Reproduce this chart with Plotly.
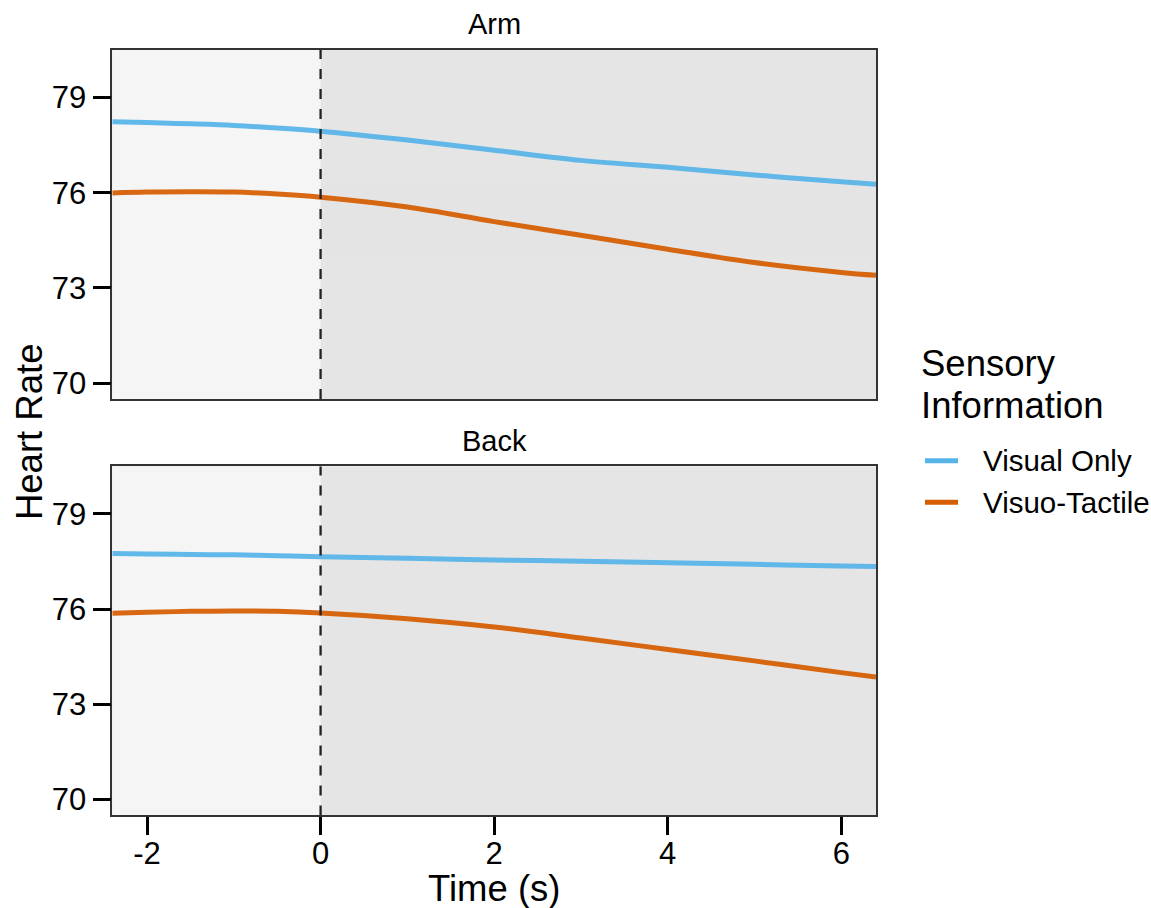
import plotly.graph_objects as go

# ---- data ----
time_s = [-2.4, -2, -1.5, -1, -0.5, 0, 1, 2, 3, 4, 5, 6, 6.4]

arm_visual = [78.24, 78.21, 78.17, 78.12, 78.04, 77.94, 77.66, 77.34, 77.02, 76.80, 76.56, 76.35, 76.27]
arm_tactile = [75.99, 76.02, 76.03, 76.02, 75.96, 75.86, 75.55, 75.09, 74.66, 74.22, 73.80, 73.49, 73.40]
back_visual = [77.75, 77.74, 77.72, 77.71, 77.68, 77.65, 77.60, 77.55, 77.51, 77.46, 77.41, 77.36, 77.34]
back_tactile = [75.87, 75.90, 75.93, 75.94, 75.93, 75.88, 75.70, 75.44, 75.09, 74.73, 74.37, 74.00, 73.86]

panels = ["Arm", "Back"]
series_names = ["Visual Only", "Visuo-Tactile"]
series_colors = ["#56B4E9", "#D55E00"]
panel_data = {"Arm": [arm_visual, arm_tactile], "Back": [back_visual, back_tactile]}

x_ticks = [-2, 0, 2, 4, 6]
x_ticktext = ["-2", "0", "2", "4", "6"]
y_ticks = [70, 73, 76, 79]
x_range = [-2.4, 6.4]
y_range = [69.5, 80.5]
legend_title = "Sensory<br>Information"

W, H = 1151, 908
FONT = "Liberation Sans, Arial, Helvetica, sans-serif"

fig = go.Figure()

x_dom = [112.3 / W, 876 / W]
y_doms = {"Arm": [1 - 400 / H, 1 - 50 / H], "Back": [1 - 817.3 / H, 1 - 467.3 / H]}
axis_ids = {"Arm": ("x", "y"), "Back": ("x2", "y2")}

for p in panels:
    xa, ya = axis_ids[p]
    for i, (name, col) in enumerate(zip(series_names, series_colors)):
        fig.add_trace(go.Scatter(
            x=time_s, y=panel_data[p][i], mode="lines", name=name,
            line=dict(color=col, width=5, shape="spline", smoothing=1.0),
            opacity=0.93, xaxis=xa, yaxis=ya, showlegend=False,
        ))

shapes = []
for p in panels:
    xa, ya = axis_ids[p]
    shapes.append(dict(type="rect", xref=xa, yref=ya, x0=x_range[0], x1=0,
                       y0=y_range[0], y1=y_range[1], fillcolor="#f5f5f5",
                       line=dict(width=0), layer="below"))
    shapes.append(dict(type="line", xref=xa, yref=ya, x0=0, x1=0,
                       y0=y_range[0], y1=y_range[1],
                       line=dict(color="#222222", width=2.3, dash="10px,10px"),
                       layer="above"))

# legend (drawn manually to match the reference spacing)
annotations = []
legend_rows_y = [461.7, 503.3]
for name, col, ypx in zip(series_names, series_colors, legend_rows_y):
    shapes.append(dict(type="line", xref="paper", yref="paper",
                       x0=925 / W, x1=958 / W, y0=1 - ypx / H, y1=1 - ypx / H,
                       line=dict(color=col, width=5)))
    annotations.append(dict(text=name, x=981 / W, y=1 - ypx / H, xref="paper", yref="paper",
                            showarrow=False, font=dict(size=29.5, family=FONT),
                            xanchor="left", yanchor="middle"))
for txt, ypx in zip(legend_title.split("<br>"), [364, 406]):
    annotations.append(dict(text=txt, x=919 / W, y=1 - ypx / H, xref="paper", yref="paper",
                            showarrow=False, font=dict(size=36.5, family=FONT),
                            xanchor="left", yanchor="middle"))

annotations += [
    dict(text="Arm", x=494 / W, y=1 - 24 / H, xref="paper", yref="paper",
         showarrow=False, font=dict(size=29, family=FONT), xanchor="center", yanchor="middle"),
    dict(text="Back", x=494 / W, y=1 - 442 / H, xref="paper", yref="paper",
         showarrow=False, font=dict(size=29, family=FONT), xanchor="center", yanchor="middle"),
    dict(text="Time (s)", x=494 / W, y=1 - 890 / H, xref="paper", yref="paper",
         showarrow=False, font=dict(size=36.5, family=FONT), xanchor="center", yanchor="middle"),
    dict(text="Heart Rate", x=29 / W, y=1 - 433 / H, xref="paper", yref="paper",
         showarrow=False, textangle=-90, font=dict(size=36.5, family=FONT),
         xanchor="center", yanchor="middle"),
]

axis_common = dict(showline=True, mirror=True, linecolor="#333333", linewidth=1.5,
                   showgrid=False, zeroline=False)
tick_common = dict(ticks="outside", ticklen=18, tickwidth=2.5, tickcolor="black",
                   tickfont=dict(size=31, family=FONT, color="black"))

fig.update_layout(
    width=W, height=H,
    margin=dict(l=0, r=0, t=0, b=0),
    paper_bgcolor="white",
    plot_bgcolor="#e5e5e5",
    font=dict(family=FONT, color="black"),
    showlegend=False,
    shapes=shapes,
    annotations=annotations,
    xaxis=dict(domain=x_dom, range=x_range, anchor="y", showticklabels=False,
               ticks="", **axis_common),
    yaxis=dict(domain=y_doms["Arm"], range=y_range, anchor="x", tickvals=y_ticks,
               **tick_common, **axis_common),
    xaxis2=dict(domain=x_dom, range=x_range, anchor="y2", tickvals=x_ticks,
                ticktext=x_ticktext, ticklabelstandoff=-8, **tick_common, **axis_common),
    yaxis2=dict(domain=y_doms["Back"], range=y_range, anchor="x2", tickvals=y_ticks,
                **tick_common, **axis_common),
)

fig.write_html("out.html")
